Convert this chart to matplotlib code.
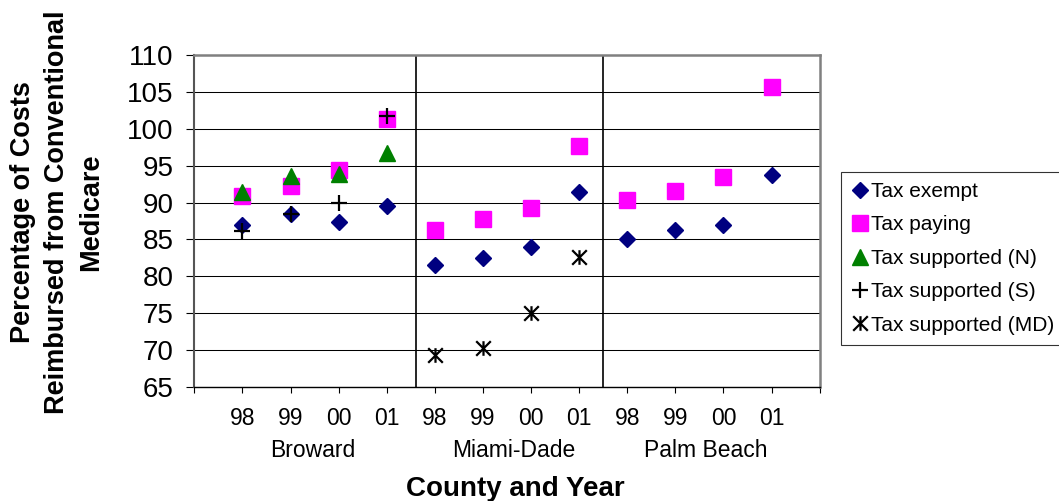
import numpy as np
import matplotlib
matplotlib.use("Agg")
import matplotlib.pyplot as plt
import matplotlib.transforms as mtransforms
from matplotlib.path import Path

###############################################################################
#Data
###############################################################################
years = ["98", "99", "00", "01"] * 3
counties = ["Broward", "Miami-Dade", "Palm Beach"]

tax_exempt = [86.9, 88.4, 87.4, 89.6, 81.6, 82.5, 84.0, 91.5, 85.0, 86.3, 87.0, 93.7]
tax_paying = [90.9, 92.2, 94.4, 101.3, 86.3, 87.8, 89.3, 97.6, 90.3, 91.6, 93.4, 105.7]
tax_supp_n = [91.4, 93.6, 93.9, 96.7]   # Broward only
tax_supp_s = [86.2, 88.4, 90.0, 101.7]  # Broward only
tax_supp_md = [69.4, 70.3, 75.0, 82.6]  # Miami-Dade only

###############################################################################
#Plot
###############################################################################
plt.rcParams['font.family'] = ["Liberation Sans", "DejaVu Sans"]

fig = plt.figure(figsize=(10.59, 5.01), dpi=100)
ax = fig.add_axes([0.1835, 0.2275, 0.5905, 0.6627])

x_all = np.arange(12)
x_bro = x_all[0:4]
x_mia = x_all[4:8]

#Asterisk marker: X with a vertical bar through it
star = Path([(0, -1), (0, 1), (-1, -1), (1, 1), (-1, 1), (1, -1)],
            [Path.MOVETO, Path.LINETO, Path.MOVETO, Path.LINETO, Path.MOVETO, Path.LINETO])

ax.plot(x_all, tax_exempt, linestyle="none", marker="D", markersize=7.8,
        color="#000080", label="Tax exempt", zorder=3)
ax.plot(x_all, tax_paying, linestyle="none", marker="s", markersize=11,
        color="#FF00FF", label="Tax paying", zorder=3)
ax.plot(x_bro, tax_supp_n, linestyle="none", marker="^", markersize=11,
        color="#008000", label="Tax supported (N)", zorder=3)
ax.plot(x_bro, tax_supp_s, linestyle="none", marker="+", markersize=11,
        markeredgewidth=1.6, color="black", label="Tax supported (S)", zorder=3)
ax.plot(x_mia, tax_supp_md, linestyle="none", marker=star, markersize=10.5,
        markeredgewidth=1.6, markerfacecolor="none", color="black",
        label="Tax supported (MD)", zorder=3)

#Axis limits and gridlines
ax.set_xlim(-1, 12)
ax.set_ylim(65, 110)
ax.set_yticks(np.arange(65, 111, 5))
ax.yaxis.grid(True, color="black", linewidth=0.75)
ax.set_axisbelow(True)

#County separators
for xs in (3.6, 7.5):
    ax.axvline(xs, color="black", linewidth=1.2, zorder=2)

#Ticks
ax.set_xticks(np.arange(-1, 13))
ax.set_xticklabels([""] + years + [""])
ax.tick_params(axis="x", direction="out", length=4.5, width=0.8, pad=10, labelsize=16.5)
ax.tick_params(axis="y", direction="out", length=6, width=0.8, pad=9, labelsize=20)

#Frame
for side in ("top", "right"):
    ax.spines[side].set_color("#808080")
    ax.spines[side].set_linewidth(1.8)
ax.spines["left"].set_color("#555555")
ax.spines["left"].set_linewidth(1.5)
ax.spines["bottom"].set_color("black")
ax.spines["bottom"].set_linewidth(1.0)

#County names under the years
name_trans = mtransforms.blended_transform_factory(ax.transData, fig.transFigure)
for name, xc in zip(counties, (1.46, 5.65, 9.63)):
    ax.text(xc, 1 - 457 / 501, name, transform=name_trans,
            ha="center", va="baseline", fontsize=16.5)

#Axis titles
fig.text(515 / 1059, 1 - 496 / 501, "County and Year", ha="center", va="baseline",
         fontsize=20, fontweight="bold")
fig.text(57.5 / 1059, 1 - 212 / 501,
         "Percentage of Costs\nReimbursed from Conventional\nMedicare",
         rotation=90, ha="center", va="center", multialignment="center",
         fontsize=19.5, fontweight="bold", linespacing=1.4)

#Legend
leg = ax.legend(loc="upper left", bbox_to_anchor=(841 / 1059, 1 - 171.7 / 501),
                bbox_transform=fig.transFigure, borderaxespad=0, fontsize=15,
                frameon=True, fancybox=False, handlelength=0.8, handletextpad=0.15,
                labelspacing=0.69, borderpad=0.5, numpoints=1)
leg.get_frame().set_edgecolor("black")
leg.get_frame().set_linewidth(0.8)

fig.savefig("out.png", dpi=100)
